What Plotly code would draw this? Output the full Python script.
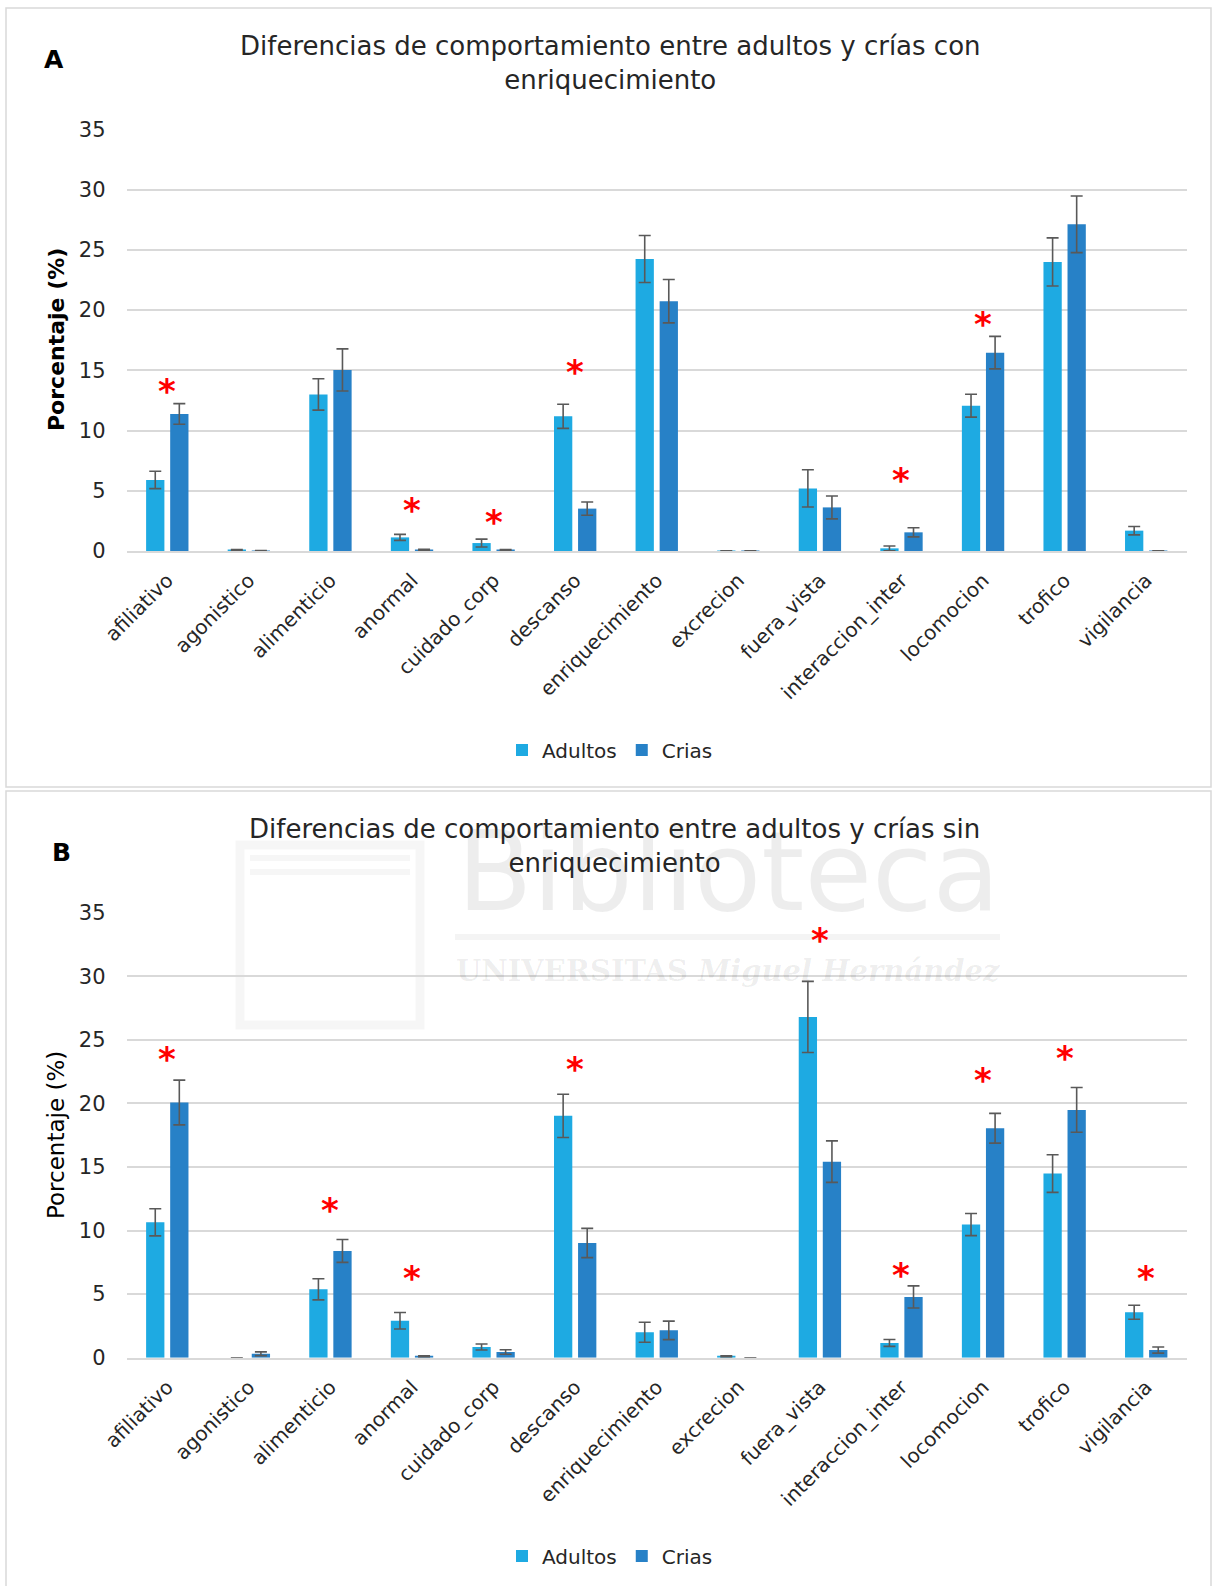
import plotly.graph_objects as go

W, H = 1213, 1586

categorias = ["afiliativo", "agonistico", "alimenticio", "anormal", "cuidado_corp",
              "descanso", "enriquecimiento", "excrecion", "fuera_vista",
              "interaccion_inter", "locomocion", "trofico", "vigilancia"]

# Panel A: con enriquecimiento (media y error)
adultos_con = [5.9, 0.08, 13.0, 1.13, 0.66, 11.18, 24.25, 0.02, 5.2, 0.22, 12.07, 24.0, 1.69]
adultos_con_err = [0.72, 0.05, 1.3, 0.25, 0.33, 1.0, 1.95, 0.0, 1.55, 0.2, 0.95, 2.0, 0.35]
crias_con = [11.38, 0.03, 15.03, 0.1, 0.08, 3.52, 20.74, 0.02, 3.62, 1.55, 16.47, 27.13, 0.02]
crias_con_err = [0.86, 0.0, 1.75, 0.05, 0.05, 0.55, 1.8, 0.0, 0.95, 0.38, 1.35, 2.35, 0.0]
sig_con = ["afiliativo", "anormal", "cuidado_corp", "descanso", "interaccion_inter", "locomocion"]
sig_con_y = [13.6, 3.76, 2.77, 15.17, 6.2, 19.2]

# Panel B: sin enriquecimiento
adultos_sin = [10.65, 0.0, 5.38, 2.91, 0.84, 19.02, 2.0, 0.1, 26.8, 1.16, 10.47, 14.48, 3.57]
adultos_sin_err = [1.07, 0.0, 0.83, 0.65, 0.24, 1.7, 0.79, 0.05, 2.8, 0.27, 0.87, 1.48, 0.55]
crias_sin = [20.07, 0.31, 8.4, 0.1, 0.45, 9.02, 2.15, 0.0, 15.42, 4.78, 18.05, 19.49, 0.6]
crias_sin_err = [1.76, 0.15, 0.9, 0.05, 0.18, 1.15, 0.73, 0.0, 1.63, 0.87, 1.17, 1.76, 0.24]
sig_sin = ["afiliativo", "alimenticio", "anormal", "descanso", "fuera_vista",
           "interaccion_inter", "locomocion", "trofico", "vigilancia"]
sig_sin_y = [23.8, 11.9, 6.59, 23.03, 33.18, 6.85, 22.19, 23.9, 6.56]

titulo_con = "Diferencias de comportamiento entre adultos y crías con<br>enriquecimiento"
titulo_sin = "Diferencias de comportamiento entre adultos y crías sin<br>enriquecimiento"

C_ADULTOS = "#1eaae2"
C_CRIAS = "#2781c7"
C_ERR = "#595959"
C_GRID = "#d9d9d9"
C_TEXT = "#262626"
FONT = "'DejaVu Sans', 'Open Sans', sans-serif"
C_MARCA = "rgba(0,0,0,0.07)"


def px_x(v):
    return v / W


def px_y(v):
    return 1 - v / H


fig = go.Figure()


def add_bars(ads, ads_err, cri, cri_err, xa, ya, leg):
    fig.add_trace(go.Bar(
        x=categorias, y=ads, name="Adultos", marker_color=C_ADULTOS,
        marker_line_width=0,
        error_y=dict(type="data", array=ads_err, color=C_ERR, thickness=1.6, width=6),
        xaxis=xa, yaxis=ya, legend=leg))
    fig.add_trace(go.Bar(
        x=categorias, y=cri, name="Crias", marker_color=C_CRIAS,
        marker_line_width=0,
        error_y=dict(type="data", array=cri_err, color=C_ERR, thickness=1.6, width=6),
        xaxis=xa, yaxis=ya, legend=leg))


add_bars(adultos_con, adultos_con_err, crias_con, crias_con_err, "x", "y", "legend")
add_bars(adultos_sin, adultos_sin_err, crias_sin, crias_sin_err, "x2", "y2", "legend2")

# library watermark behind panel B
annotations = [
    dict(x=px_x(728), y=px_y(872), xref="paper", yref="paper", text="Biblioteca",
         showarrow=False, xanchor="center", yanchor="middle",
         font=dict(family="'DejaVu Sans', sans-serif", size=110, color=C_MARCA)),
    dict(x=px_x(728), y=px_y(971), xref="paper", yref="paper",
         text="<b>UNIVERSITAS <i>Miguel Hernández</i></b>",
         showarrow=False, xanchor="center", yanchor="middle",
         font=dict(family="'DejaVu Serif', serif", size=29, color=C_MARCA)),
]

# significance asterisks
STAR_FONT = dict(family="'DejaVu Sans', sans-serif", size=34, color="#ff0000")
for cat, yv in zip(sig_con, sig_con_y):
    annotations.append(dict(x=cat, y=yv, xref="x", yref="y", text="<b>*</b>", showarrow=False,
                            font=STAR_FONT, yshift=-4))
for cat, yv in zip(sig_sin, sig_sin_y):
    annotations.append(dict(x=cat, y=yv, xref="x2", yref="y2", text="<b>*</b>", showarrow=False,
                            font=STAR_FONT, yshift=-4))

# titles, panel letters and y-axis titles
annotations += [
    dict(x=px_x(610), y=px_y(63), xref="paper", yref="paper", text=titulo_con,
         showarrow=False, font=dict(family=FONT, size=26, color=C_TEXT),
         xanchor="center", yanchor="middle"),
    dict(x=px_x(615), y=px_y(846), xref="paper", yref="paper", text=titulo_sin,
         showarrow=False, font=dict(family=FONT, size=26, color=C_TEXT),
         xanchor="center", yanchor="middle"),
    dict(x=px_x(54), y=px_y(60), xref="paper", yref="paper", text="<b>A</b>",
         showarrow=False, xanchor="center", yanchor="middle",
         font=dict(family=FONT, size=25, color="#000000")),
    dict(x=px_x(61), y=px_y(852), xref="paper", yref="paper", text="<b>B</b>",
         showarrow=False, xanchor="center", yanchor="middle",
         font=dict(family=FONT, size=25, color="#000000")),
    dict(x=px_x(56), y=px_y(340), xref="paper", yref="paper", text="<b>Porcentaje (%)</b>",
         showarrow=False, textangle=-90, xanchor="center", yanchor="middle",
         font=dict(family=FONT, size=22, color="#000000")),
    dict(x=px_x(56), y=px_y(1135), xref="paper", yref="paper", text="Porcentaje (%)",
         showarrow=False, textangle=-90, xanchor="center", yanchor="middle",
         font=dict(family=FONT, size=23, color="#000000")),
]

# panel frames and faint watermark outline
WM_LINE = "rgba(0,0,0,0.035)"
shapes = [
    dict(type="rect", xref="paper", yref="paper", x0=px_x(6), x1=px_x(1211),
         y0=px_y(787), y1=px_y(8), line=dict(color=C_GRID, width=1.5), layer="below"),
    dict(type="rect", xref="paper", yref="paper", x0=px_x(6), x1=px_x(1211),
         y0=px_y(1600), y1=px_y(791), line=dict(color=C_GRID, width=1.5), layer="below"),
    dict(type="rect", xref="paper", yref="paper", x0=px_x(240), x1=px_x(420),
         y0=px_y(1025), y1=px_y(845), line=dict(color=WM_LINE, width=9), layer="below"),
    dict(type="line", xref="paper", yref="paper", x0=px_x(250), x1=px_x(410),
         y0=px_y(858), y1=px_y(858), line=dict(color=WM_LINE, width=6), layer="below"),
    dict(type="line", xref="paper", yref="paper", x0=px_x(250), x1=px_x(410),
         y0=px_y(872), y1=px_y(872), line=dict(color=WM_LINE, width=6), layer="below"),
    dict(type="line", xref="paper", yref="paper", x0=px_x(455), x1=px_x(1000),
         y0=px_y(937), y1=px_y(937), line=dict(color="rgba(0,0,0,0.045)", width=6),
         layer="below"),
]

xdom = [px_x(126.5), px_x(1187)]
xaxis_style = dict(domain=xdom, tickangle=-45, showgrid=False, showline=True,
                   linecolor=C_GRID, linewidth=1.5, ticks="", automargin=False,
                   tickfont=dict(family=FONT, size=20, color=C_TEXT),
                   ticklabelstandoff=8)
yaxis_style = dict(range=[0, 35], dtick=5, showgrid=True, gridcolor=C_GRID, gridwidth=1.5,
                   zeroline=False, showline=False, ticks="", automargin=False,
                   tickfont=dict(family=FONT, size=21, color=C_TEXT),
                   ticklabelstandoff=20)

legend_style = dict(orientation="h", xanchor="center", yanchor="middle",
                    font=dict(family=FONT, size=20, color=C_TEXT),
                    itemwidth=30, bgcolor="rgba(0,0,0,0)", traceorder="normal")

fig.update_layout(
    width=W, height=H,
    margin=dict(l=0, r=0, t=0, b=0, autoexpand=False),
    paper_bgcolor="white", plot_bgcolor="white",
    barmode="group", bargap=0.41, bargroupgap=0.24,
    xaxis=dict(xaxis_style, anchor="y"),
    yaxis=dict(yaxis_style, domain=[px_y(551), px_y(129.5)], anchor="x"),
    xaxis2=dict(xaxis_style, anchor="y2"),
    yaxis2=dict(yaxis_style, domain=[px_y(1357.7), px_y(912.7)], anchor="x2"),
    legend=dict(legend_style, x=px_x(610), y=px_y(750)),
    legend2=dict(legend_style, x=px_x(610), y=px_y(1556)),
    annotations=annotations,
    shapes=shapes,
    showlegend=True,
)

fig.write_html("out.html")
